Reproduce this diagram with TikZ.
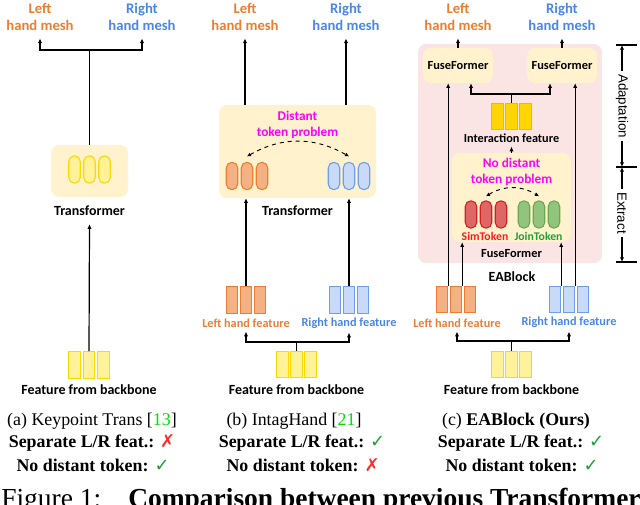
\documentclass[tikz,border=0pt]{standalone}
\usepackage{fontspec}
\setmainfont{Liberation Serif}
\newfontfamily\calfont{Carlito}
\newfontfamily\arfont{Liberation Sans}
\newfontfamily\symfont{DejaVu Sans}
\usepackage{xcolor}
\usetikzlibrary{arrows.meta}
\definecolor{lorange}{HTML}{ED7D31}
\definecolor{rblue}{HTML}{4A86E8}
\definecolor{magen}{HTML}{FF00FF}
\definecolor{boxyel}{HTML}{FFF2CC}
\definecolor{blockpink}{HTML}{FBE4E4}
\definecolor{tokyel}{HTML}{FFF299}
\definecolor{tokyeld}{HTML}{FFD800}
\definecolor{tokorg}{HTML}{F4B183}
\definecolor{tokblu}{HTML}{C9DAF8}
\definecolor{tokblud}{HTML}{6D9EEB}
\definecolor{tokred}{HTML}{E06666}
\definecolor{tokredd}{HTML}{CC2222}
\definecolor{tokgrn}{HTML}{93C47D}
\definecolor{tokgrnd}{HTML}{6AA84F}
\definecolor{intyel}{HTML}{FFD500}
\definecolor{intyeld}{HTML}{F2B800}
\definecolor{simred}{HTML}{FF1A1A}
\definecolor{joingrn}{HTML}{22A03A}
\definecolor{citegrn}{HTML}{00E000}
\definecolor{okgrn}{HTML}{1E9E3A}
\definecolor{nored}{HTML}{FF2A2A}
\tikzset{
  blocktext/.style={font=\calfont\bfseries\fontsize{10.5}{12}\selectfont, inner sep=0pt, align=center},
  meshtext/.style={font=\calfont\bfseries\fontsize{11}{12.75}\selectfont, inner sep=0pt, align=center},
  feattext/.style={font=\calfont\bfseries\fontsize{9.2}{11}\selectfont, inner sep=0pt, align=center},
  fftext/.style={font=\calfont\bfseries\fontsize{9.3}{11}\selectfont},
  toktext/.style={font=\calfont\bfseries\fontsize{8.8}{10}\selectfont, inner sep=0pt},
  probtext/.style={font=\calfont\bfseries\fontsize{10}{12}\selectfont, inner sep=0pt, align=center, text=magen},
  captext/.style={font=\fontsize{13.4}{15}\selectfont, inner sep=0pt},
  capbold/.style={font=\fontsize{13.4}{15}\selectfont\bfseries, inner sep=0pt},
  brackettext/.style={font=\arfont\fontsize{10}{12}\selectfont, rotate=-90, fill=white, inner sep=2.5pt},
  tbox/.style={fill=boxyel, rounded corners=6pt, inner sep=0pt},
  blockbox/.style={fill=blockpink, rounded corners=6pt, inner sep=0pt},
  token/.style={line width=0.8pt, minimum width=8.6pt, minimum height=20.5pt, rounded corners=4.2pt, inner sep=0pt},
  featrect/.style={line width=0.8pt, minimum width=8.5pt, minimum height=20pt, inner sep=0pt},
  plainline/.style={line width=0.9pt},
  flowline/.style={-{Latex[length=3.5pt,width=3.2pt]}, line width=0.9pt},
  distline/.style={{Latex[length=3pt,width=3pt]}-{Latex[length=3pt,width=3pt]}, dashed, line width=0.7pt}
}
\begin{document}
\begin{tikzpicture}[x=0.75pt, y=-0.75pt]
  \useasboundingbox (0,0) rectangle (640,505);
  \clip (0,0) rectangle (640,505);

  % (a) one transformer for both hands
  \node[meshtext, text=lorange] (mla) at (40,16.5) {Left\\hand mesh};
  \node[meshtext, text=rblue] (mra) at (142,16.5) {Right\\hand mesh};
  \node[tbox, minimum width=57.75pt, minimum height=39pt] (tra) at (89.5,171) {};
  \foreach \i/\x in {1/74.5,2/89.5,3/104.5}
    \node[token, fill=tokyel, draw=tokyeld] (ta\i) at (\x,169.5) {};
  \node[blocktext] (ltra) at (89.5,211) {Transformer};
  \foreach \i/\x in {1/74.5,2/89,3/103.5}
    \node[featrect, fill=tokyel, draw=tokyeld] (fba\i) at (\x,365) {};
  \node[blocktext] (lfba) at (89,390) {Feature from backbone};
  \coordinate (ka) at (89.5,50);
  \draw[flowline] (fba2.north) -- ([yshift=-6pt]ltra.south);
  \draw[plainline] (tra.north) -- (ka);
  \draw[flowline] (ka) -| ([yshift=-6pt]mla.south);
  \draw[flowline] (ka) -| ([yshift=-6pt]mra.south);

  % (b) IntagHand
  \node[meshtext, text=lorange] (mlb) at (245,16.5) {Left\\hand mesh};
  \node[meshtext, text=rblue] (mrb) at (346,16.5) {Right\\hand mesh};
  \node[tbox, minimum width=117.75pt, minimum height=69.75pt] (trb) at (297.5,151.5) {};
  \node[probtext] (pdb) at (297.5,124.5) {Distant\\token problem};
  \foreach \i/\x in {1/232,2/247,3/262}
    \node[token, fill=tokorg, draw=lorange] (tob\i) at (\x,176) {};
  \foreach \i/\x in {1/334,2/349,3/364}
    \node[token, fill=tokblu, draw=tokblud] (tbb\i) at (\x,176) {};
  \draw[distline] ([yshift=4pt]tob2.north) to[bend left=30] ([yshift=4pt]tbb2.north);
  \node[blocktext] (ltrb) at (297.5,211) {Transformer};
  \foreach \i/\x in {1/232,2/246,3/260}
    \node[featrect, fill=tokorg, draw=lorange] (flb\i) at (\x,300) {};
  \foreach \i/\x in {1/335,2/349,3/363}
    \node[featrect, fill=tokblu, draw=tokblud] (frb\i) at (\x,300) {};
  \node[feattext, text=lorange] (lflb) at (246,323) {Left hand feature};
  \node[feattext, text=rblue] (lfrb) at (349,323) {Right hand feature};
  \foreach \i/\x in {1/282.5,2/296.5,3/310.5}
    \node[featrect, fill=tokyel, draw=tokyeld] (fbb\i) at (\x,364.5) {};
  \node[blocktext] (lfbb) at (296.5,390) {Feature from backbone};
  \coordinate (kb) at (296.5,342);
  \draw[plainline] (fbb2.north) -- (kb);
  \draw[flowline] (kb) -| ([yshift=-3pt]lflb.south);
  \draw[flowline] (kb) -| ([yshift=-3pt]lfrb.south);
  \draw[flowline] (flb2.north) -- (flb2.north |- trb.south);
  \draw[flowline] (frb2.north) -- (frb2.north |- trb.south);
  \draw[flowline] (mlb.south |- trb.north) -- ([yshift=-6pt]mlb.south);
  \draw[flowline] (mrb.south |- trb.north) -- ([yshift=-6pt]mrb.south);

  % (c) EABlock
  \node[meshtext, text=lorange] (mlc) at (458,16.5) {Left\\hand mesh};
  \node[meshtext, text=rblue] (mrc) at (562,16.5) {Right\\hand mesh};
  \node[blockbox, minimum width=138pt, minimum height=164.25pt] (eab) at (510,153.5) {};
  \node[tbox, fftext, minimum width=52.5pt, minimum height=26.25pt] (ffl) at (458,65.5) {FuseFormer};
  \node[tbox, fftext, minimum width=52.5pt, minimum height=26.25pt] (ffr) at (562,65.5) {FuseFormer};
  \foreach \i/\x in {1/497.5,2/511.5,3/525.5}
    \node[featrect, fill=intyel, draw=intyeld] (ia\i) at (\x,116.5) {};
  \node[feattext] (lint) at (511.5,138) {Interaction feature};
  \node[tbox, minimum width=89.25pt, minimum height=66.75pt] (ffi) at (511.5,197.5) {};
  \node[probtext] (pdc) at (511.5,171.5) {No distant\\token problem};
  \foreach \i/\x in {1/471,2/486,3/501}
    \node[token, fill=tokred, draw=tokredd] (trc\i) at (\x,214.5) {};
  \foreach \i/\x in {1/524,2/539,3/554}
    \node[token, fill=tokgrn, draw=tokgrnd] (tgc\i) at (\x,214.5) {};
  \draw[distline] ([yshift=3pt]trc2.north) to[bend left=32] ([yshift=3pt]tgc2.north);
  \node[toktext, text=simred] (lsim) at (485,236) {SimToken};
  \node[toktext, text=joingrn] (ljoin) at (538.5,236) {JoinToken};
  \node[fftext, inner sep=0pt] (lffi) at (511.5,254) {FuseFormer};
  \node[blocktext] (leab) at (512,277) {EABlock};
  \foreach \i/\x in {1/442,2/456,3/470}
    \node[featrect, fill=tokorg, draw=lorange] (flc\i) at (\x,299.5) {};
  \foreach \i/\x in {1/555,2/569,3/583}
    \node[featrect, fill=tokblu, draw=tokblud] (frc\i) at (\x,299.5) {};
  \node[feattext, text=lorange] (lflc) at (457,323) {Left hand feature};
  \node[feattext, text=rblue] (lfrc) at (569,322) {Right hand feature};
  \foreach \i/\x in {1/497.5,2/511.5,3/525.5}
    \node[featrect, fill=tokyel, draw=tokyeld] (fbc\i) at (\x,364.5) {};
  \node[blocktext] (lfbc) at (511.5,390) {Feature from backbone};
  \coordinate (kc) at (511.5,341);
  \draw[plainline] (fbc2.north) -- (kc);
  \draw[flowline] (kc) -| ([yshift=-3pt]lflc.south);
  \draw[flowline] (kc) -| ([yshift=-3pt]lfrc.south);
  \draw[flowline] (flc1.north east) -- (flc1.north east |- ffl.south);
  \draw[flowline] (flc2.north east) -- (flc2.north east |- ffi.south);
  \draw[flowline] (frc1.north east) -- (frc1.north east |- ffi.south);
  \draw[flowline] (frc2.north east) -- (frc2.north east |- ffr.south);
  \draw[flowline] (ffi.north) -- ([yshift=-3pt]lint.south);
  \coordinate (ki) at (511.5,94);
  \draw[plainline] (ia2.north) -- (ki);
  \draw[flowline] (ki) -| ([xshift=9.75pt]ffl.south);
  \draw[flowline] (ki) -| ([xshift=-9pt]ffr.south);
  \draw[flowline] (ffl.north) -- ([yshift=-6pt]mlc.south);
  \draw[flowline] (ffr.north) -- ([yshift=-6pt]mrc.south);

  % stage bracket
  \coordinate (bt) at (622,45);
  \coordinate (bm) at (622,167);
  \coordinate (bb) at (622,262);
  \draw[plainline] (616,45) -- (637,45);
  \draw[plainline] (616,167) -- (637,167);
  \draw[plainline] (616,262) -- (637,262);
  \node[brackettext] (adp) at (622,106) {Adaptation};
  \node[brackettext] (ext) at (622,213) {Extract};
  \draw[flowline] (adp.west) -- (bt);
  \draw[flowline] (adp.east) -- (bm);
  \draw[flowline] (ext.west) -- (bm);
  \draw[flowline] (ext.east) -- (bb);

  % captions
  \node[captext] (ca1) at (92,421) {(a) Keypoint Trans [\textcolor{citegrn}{13}]};
  \node[capbold] (ca2) at (92,443) {Separate L/R feat.: \textcolor{nored}{\symfont\mdseries ✗}};
  \node[capbold] (ca3) at (93,465) {No distant token: \textcolor{okgrn}{\symfont\mdseries ✓}};
  \node[captext] (cb1) at (294,421) {(b) IntagHand [\textcolor{citegrn}{21}]};
  \node[capbold] (cb2) at (302,443) {Separate L/R feat.: \textcolor{okgrn}{\symfont\mdseries ✓}};
  \node[capbold] (cb3) at (303,465) {No distant token: \textcolor{nored}{\symfont\mdseries ✗}};
  \node[captext] (cc1) at (516,421) {(c) \textbf{EABlock (Ours)}};
  \node[capbold] (cc2) at (521,443) {Separate L/R feat.: \textcolor{okgrn}{\symfont\mdseries ✓}};
  \node[capbold] (cc3) at (522,465) {No distant token: \textcolor{okgrn}{\symfont\mdseries ✓}};
  \node[anchor=base west, inner sep=0pt, font=\fontsize{20.6}{24}\selectfont] (fig) at (1,508) {Figure 1:};
  \node[anchor=base west, inner sep=0pt, font=\fontsize{20.6}{24}\selectfont\bfseries] (figt) at (128,508) {Comparison between previous Transformer};
\end{tikzpicture}
\end{document}
